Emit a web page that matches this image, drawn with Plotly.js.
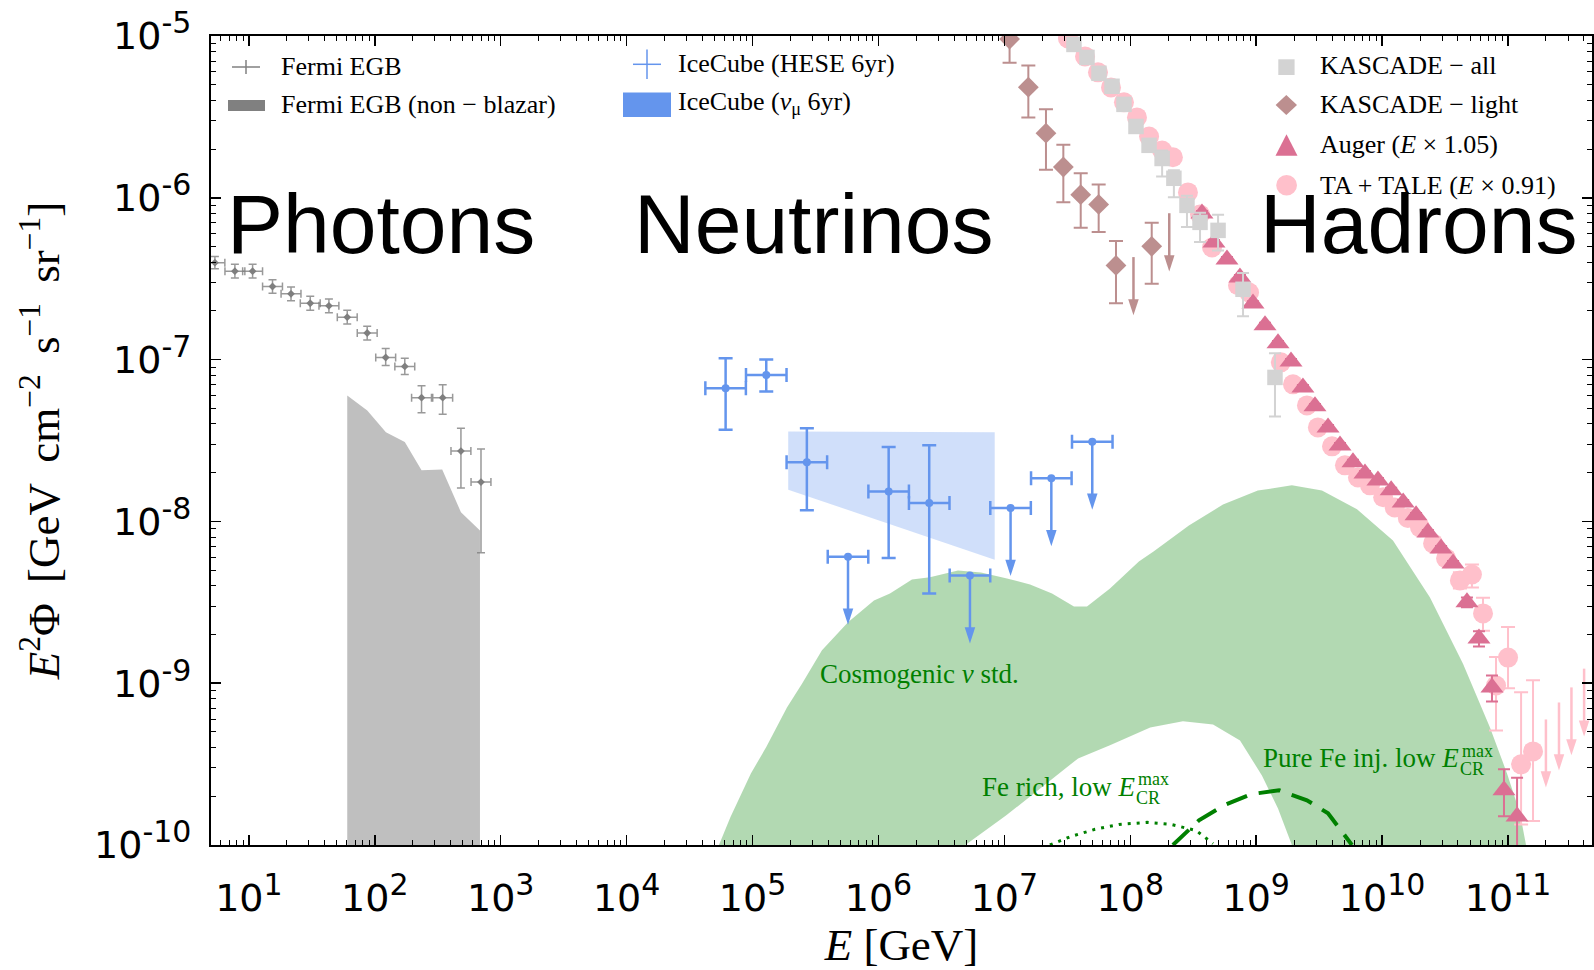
<!DOCTYPE html>
<html>
<head>
<meta charset="utf-8">
<script src="https://cdn.plot.ly/plotly-3.0.1.min.js"></script>
<style>html,body{margin:0;padding:0;background:#fff;}</style>
</head>
<body>
<div id="chart" style="width:1594px;height:970px;"></div>
<script>
// ---------------- DATA ----------------
// Fermi EGB (E in GeV, E^2 Phi in GeV cm^-2 s^-1 sr^-1)
const fermiE   = [5.37, 7.74, 10.7, 15.4, 21.6, 30.7, 43.2, 60.4, 87, 122, 173, 235, 346, 483, 697];
const fermiF   = [3.97e-7, 3.52e-7, 3.52e-7, 2.83e-7, 2.55e-7, 2.23e-7, 2.15e-7, 1.83e-7, 1.46e-7, 1.03e-7, 9.08e-8, 5.82e-8, 5.82e-8, 2.72e-8, 1.75e-8];
const fermiFhi = [4.33e-7, 3.88e-7, 3.88e-7, 3.12e-7, 2.81e-7, 2.46e-7, 2.37e-7, 2.02e-7, 1.61e-7, 1.17e-7, 1.02e-7, 6.9e-8, 7.0e-8, 3.77e-8, 2.8e-8];
const fermiFlo = [3.64e-7, 3.19e-7, 3.19e-7, 2.57e-7, 2.31e-7, 2.02e-7, 1.95e-7, 1.66e-7, 1.32e-7, 9.2e-8, 8.1e-8, 4.7e-8, 4.6e-8, 1.61e-8, 6.4e-9];
const fermiBinHalfDex = 0.079;

// Fermi EGB non-blazar
const fermiNBE = [60.4, 87.1, 122.5, 173, 235, 343, 483, 684];
const fermiNBF = [6.01e-8, 4.85e-8, 3.56e-8, 3.09e-8, 2.07e-8, 2.09e-8, 1.14e-8, 8.8e-9];

// IceCube HESE 6yr
const hesE   = [6.11e4, 1.285e5, 2.70e5, 1.205e6, 2.53e6];
const hesF   = [6.64e-8, 8.02e-8, 2.32e-8, 1.53e-8, 1.30e-8];
const hesFhi = [1.02e-7, 1.00e-7, 3.76e-8, 2.88e-8, 2.96e-8];
const hesFlo = [3.69e-8, 6.34e-8, 1.17e-8, 5.93e-9, 3.59e-9];
const hesULE = [5.73e5, 5.33e6, 1.12e7, 2.36e7, 4.99e7];
const hesULF = [6.05e-9, 4.63e-9, 1.21e-8, 1.85e-8, 3.11e-8];
const hesBinHalfDex = 0.161;

// IceCube nu_mu 6yr band
const numuE     = [1.92e5, 8.38e6];
const numuUpper = [3.60e-8, 3.55e-8];
const numuLower = [1.57e-8, 5.80e-9];

// Cosmogenic nu std. band
const cosUpE = [5.41e4, 6.68e4, 9.70e4, 1.285e5, 1.876e5, 2.47e5, 3.56e5, 5.73e5, 9.21e5, 1.234e6, 1.845e6, 2.56e6, 4.28e6, 6.52e6, 1.03e7, 1.60e7, 2.39e7, 3.57e7, 4.53e7, 6.90e7, 1.17e8, 1.54e8, 2.92e8, 5.45e8, 1.03e9, 1.92e9, 3.33e9, 6.32e9, 1.22e10, 2.40e10, 4.39e10, 7.19e10, 9.82e10, 1.245e11, 1.39e11];
const cosUpF = [1.0e-10, 1.49e-10, 2.77e-10, 4.03e-10, 7.08e-10, 9.93e-10, 1.60e-9, 2.38e-9, 3.25e-9, 3.59e-9, 4.38e-9, 4.51e-9, 4.98e-9, 4.84e-9, 4.45e-9, 4.08e-9, 3.59e-9, 2.98e-9, 2.98e-9, 3.85e-9, 5.66e-9, 6.53e-9, 9.45e-9, 1.27e-8, 1.55e-8, 1.67e-8, 1.55e-8, 1.19e-8, 7.62e-9, 3.39e-9, 1.32e-9, 5.32e-10, 2.77e-10, 1.57e-10, 1.0e-10];
const cosLoE = [4.9e6, 1.03e7, 1.92e7, 3.85e7, 6.90e7, 1.44e8, 2.62e8, 4.54e8, 7.44e8, 1.11e9, 1.49e9, 1.92e9];
const cosLoF = [1.0e-10, 1.52e-10, 2.24e-10, 3.43e-10, 4.13e-10, 5.33e-10, 5.81e-10, 5.56e-10, 4.43e-10, 2.69e-10, 1.68e-10, 1.0e-10];

// Pure Fe inj. low Emax (dashed) and Fe rich, low Emax (dotted)
const feDashE = [2.18e8, 3.51e8, 5.55e8, 9.09e8, 1.52e9, 2.53e9, 3.72e9, 4.80e9, 5.76e9];
const feDashF = [1.0e-10, 1.42e-10, 1.76e-10, 2.06e-10, 2.18e-10, 1.89e-10, 1.57e-10, 1.20e-10, 1.0e-10];
const feDotE  = [2.30e7, 3.38e7, 5.25e7, 8.13e7, 1.36e8, 2.11e8, 3.33e8, 4.54e8];
const feDotF  = [1.0e-10, 1.13e-10, 1.25e-10, 1.34e-10, 1.38e-10, 1.34e-10, 1.23e-10, 1.02e-10];

// KASCADE - light
const klE   = [1.10e7, 1.55e7, 2.14e7, 2.94e7, 4.04e7, 5.61e7, 7.70e7, 1.48e8];
const klF   = [9.58e-6, 4.83e-6, 2.51e-6, 1.55e-6, 1.045e-6, 9.10e-7, 3.82e-7, 5.01e-7];
const klFhi = [1.3e-5, 6.58e-6, 3.52e-6, 2.13e-6, 1.42e-6, 1.21e-6, 5.40e-7, 7.02e-7];
const klFlo = [6.84e-6, 3.13e-6, 1.49e-6, 9.37e-7, 6.53e-7, 6.14e-7, 2.23e-7, 2.94e-7];
const klULE = [1.06e8, 2.04e8];
const klULF = [4.30e-7, 8.03e-7];

// KASCADE - all
const kaE = [3.57e7, 4.53e7, 5.64e7, 7.16e7, 8.91e7, 1.11e8, 1.41e8, 1.79e8, 2.22e8, 2.82e8, 3.58e8, 4.98e8, 7.86e8, 1.41e9];
const kaF = [8.87e-6, 7.37e-6, 5.88e-6, 4.89e-6, 3.78e-6, 2.76e-6, 2.11e-6, 1.75e-6, 1.32e-6, 8.98e-7, 7.05e-7, 6.29e-7, 2.72e-7, 7.76e-8];
const kaUpDex = [0.03, 0.03, 0.03, 0.03, 0.03, 0.03, 0.03, 0.05, 0.05, 0.06, 0.06, 0.097, 0.10, 0.15];
const kaDnDex = [0.03, 0.03, 0.03, 0.03, 0.03, 0.03, 0.03, 0.111, 0.117, 0.134, 0.122, 0.124, 0.167, 0.241];

// Auger (E x 1.05)
const augerE = [3.71e8, 4.62e8, 5.86e8, 7.43e8, 9.43e8, 1.175e9, 1.49e9, 1.89e9, 2.35e9, 2.93e9, 3.72e9, 4.63e9, 5.87e9, 7.31e9, 9.27e9, 1.18e10, 1.47e10, 1.86e10, 2.31e10, 2.94e10, 3.66e10, 4.72e10, 5.88e10, 7.46e10, 9.29e10, 1.18e11];
const augerF = [8.01e-7, 5.30e-7, 4.16e-7, 3.22e-7, 2.22e-7, 1.63e-7, 1.26e-7, 9.74e-8, 6.73e-8, 5.14e-8, 3.81e-8, 2.95e-8, 2.32e-8, 1.98e-8, 1.79e-8, 1.56e-8, 1.31e-8, 1.09e-8, 8.55e-9, 6.81e-9, 5.50e-9, 3.16e-9, 1.89e-9, 9.42e-10, 2.18e-10, 1.50e-10];
const augerUpDex = [0.015,0.015,0.015,0.015,0.015,0.015,0.015,0.015,0.015,0.015,0.015,0.015,0.015,0.015,0.015,0.015,0.015,0.015,0.015,0.015,0.015, 0.03, 0.045, 0.074, 0.13, 0.24];
const augerDnDex = [0.015,0.015,0.015,0.015,0.015,0.015,0.015,0.015,0.015,0.015,0.015,0.015,0.015,0.015,0.015,0.015,0.015,0.015,0.015,0.015,0.015, 0.03, 0.05, 0.087, 0.16, 0.5];

// TA + TALE (E x 0.91)
const taE = [3.20e7, 4.37e7, 5.54e7, 7.03e7, 8.91e7, 1.13e8, 1.41e8, 1.79e8, 2.18e8, 2.87e8, 3.58e8, 4.46e8, 7.17e8, 8.77e8, 1.57e9, 1.96e9, 2.53e9, 3.09e9, 4.00e9, 5.07e9, 6.43e9, 8.01e9, 1.02e10, 1.26e10, 1.60e10, 2.00e10, 2.54e10, 3.22e10, 4.15e10, 5.17e10, 6.33e10, 8.03e10, 1.00e11, 1.27e11, 1.58e11];
const taF = [9.66e-6, 7.48e-6, 5.96e-6, 4.81e-6, 3.89e-6, 3.14e-6, 2.39e-6, 1.96e-6, 1.78e-6, 1.08e-6, 7.89e-7, 4.93e-7, 2.88e-7, 2.60e-7, 9.62e-8, 7.03e-8, 5.21e-8, 3.81e-8, 2.91e-8, 2.22e-8, 1.87e-8, 1.67e-8, 1.41e-8, 1.22e-8, 1.05e-8, 9.19e-9, 7.31e-9, 5.91e-9, 4.32e-9, 4.70e-9, 2.70e-9, 9.68e-10, 1.44e-9, 3.15e-10, 3.79e-10];
const taUpDex = [0.02,0.02,0.02,0.02,0.02,0.02,0.02,0.02,0.02, 0.04,0.04,0.04,0.04,0.04, 0.03,0.03,0.03,0.03,0.03,0.03,0.03,0.03,0.03,0.03,0.03,0.03,0.03,0.03, 0.05, 0.062, 0.096, 0.176, 0.189, 0.445, 0.44];
const taDnDex = [0.02,0.02,0.02,0.02,0.02,0.02,0.02,0.02,0.02, 0.04,0.04,0.04,0.04,0.04, 0.03,0.03,0.03,0.03,0.03,0.03,0.03,0.03,0.03,0.03,0.03,0.03,0.03,0.03, 0.05, 0.080, 0.107, 0.278, 0.19, 0.371, 0.43];
const taULE = [2.00e11, 2.54e11, 3.19e11, 4.02e11];
const taULF = [5.97e-10, 7.60e-10, 9.42e-10, 1.23e-9];

// Tick labels
const SUPSTYLE = 'font-size:30px';
const xTickVals = [1e1,1e2,1e3,1e4,1e5,1e6,1e7,1e8,1e9,1e10,1e11];
const xTickExp  = ['1','2','3','4','5','6','7','8','9','10','11'];
const yTickVals = [1e-10,1e-9,1e-8,1e-7,1e-6,1e-5];
const yTickExp  = ['-10','-9','-8','-7','-6','-5'];
const xTickText = xTickExp.map(e => '10<sup><span style="' + SUPSTYLE + '">' + e + '</span></sup>');
const yTickText = yTickExp.map(e => '10<sup><span style="' + SUPSTYLE + '">' + e + '</span></sup>');

// Legend labels
const legFermi = ['Fermi EGB', 'Fermi EGB (non − blazar)'];
const legIce   = ['IceCube (HESE 6yr)', 'IceCube (<i>ν</i><sub>μ</sub> 6yr)'];
const legHad   = ['KASCADE − all', 'KASCADE − light', 'Auger (<i>E</i> × 1.05)', 'TA + TALE (<i>E</i> × 0.91)'];

// ---------------- LAYOUT HELPERS ----------------
const W = 1594, H = 970;
const M = {l: 211, r: 2, t: 36, b: 125};
const PW = W - M.l - M.r, PH = H - M.t - M.b;
const X = p => (p - M.l) / PW;
const Y = p => (H - M.b - p) / PH;
const FLOOR = 1e-13;

const C = {
  fermi: '#7f7f7f', fermiErr: 'rgba(128,128,128,0.8)', fermiNB: '#bfbfbf',
  ice: '#6495ED', iceBand: 'rgba(100,149,237,0.3)',
  green: 'rgba(0,128,0,0.3)', dkgreen: '#008000',
  kall: '#D3D3D3', klight: '#BC8F8F', auger: '#DB7093', ta: '#FFC0CB'
};

const up = (v, d) => v.map((x, i) => x * (Math.pow(10, Array.isArray(d) ? d[i] : d) - 1));
const dn = (v, d) => v.map((x, i) => x * (1 - Math.pow(10, -(Array.isArray(d) ? d[i] : d))));
const diff = (a, b) => a.map((x, i) => Math.abs(x - b[i]));

function ulTraces(E, F, dropDex, color, lw, head) {
  const xs = [], ys = [], tip = [];
  E.forEach((e, i) => {
    const t = F[i] / Math.pow(10, dropDex);
    xs.push(e, e, null); ys.push(F[i], t * Math.pow(10, 0.05), null); tip.push(t);
  });
  return [
    {type: 'scatter', x: xs, y: ys, mode: 'lines', line: {color: color, width: lw}, hoverinfo: 'skip', showlegend: false},
    {type: 'scatter', x: E, y: tip, mode: 'markers', marker: {symbol: 'arrow', angle: 180, size: head, color: color, line: {width: 0}}, hoverinfo: 'skip', showlegend: false}
  ];
}

const traces = [];
// Fermi non-blazar band
traces.push({type: 'scatter', mode: 'lines',
  x: [fermiNBE[0]].concat(fermiNBE, [fermiNBE[fermiNBE.length - 1]]),
  y: [FLOOR].concat(fermiNBF, [FLOOR]),
  fill: 'toself', fillcolor: C.fermiNB, line: {width: 0}, hoverinfo: 'skip', showlegend: false});
// Cosmogenic band
traces.push({type: 'scatter', mode: 'lines',
  x: cosUpE.concat([cosUpE[cosUpE.length - 1]], cosLoE.slice().reverse(), [cosLoE[0], cosUpE[0]]),
  y: cosUpF.concat([FLOOR], cosLoF.slice().reverse(), [FLOOR, FLOOR]),
  fill: 'toself', fillcolor: C.green, line: {width: 0}, hoverinfo: 'skip', showlegend: false});
// Fe curves
traces.push({type: 'scatter', mode: 'lines', x: feDotE, y: feDotF, line: {color: C.dkgreen, width: 3, dash: '3px,6px'}, showlegend: false});
traces.push({type: 'scatter', mode: 'lines', x: feDashE, y: feDashF, line: {color: C.dkgreen, width: 4, dash: '22px,12px'}, showlegend: false});
// IceCube numu band
traces.push({type: 'scatter', mode: 'lines',
  x: [numuE[0], numuE[1], numuE[1], numuE[0]],
  y: [numuUpper[0], numuUpper[1], numuLower[1], numuLower[0]],
  fill: 'toself', fillcolor: C.iceBand, line: {width: 0}, hoverinfo: 'skip', showlegend: false});
// Fermi EGB points
traces.push({type: 'scatter', mode: 'markers', x: fermiE, y: fermiF,
  marker: {symbol: 'diamond', size: 6, color: C.fermi},
  error_x: {type: 'data', symmetric: false, array: up(fermiE, fermiBinHalfDex), arrayminus: dn(fermiE, fermiBinHalfDex), color: C.fermiErr, thickness: 1.5, width: 4},
  error_y: {type: 'data', symmetric: false, array: diff(fermiFhi, fermiF), arrayminus: diff(fermiF, fermiFlo), color: C.fermiErr, thickness: 1.5, width: 4},
  showlegend: false});
// IceCube HESE
traces.push({type: 'scatter', mode: 'markers', x: hesE, y: hesF,
  marker: {size: 8, color: C.ice},
  error_x: {type: 'data', symmetric: false, array: up(hesE, hesBinHalfDex), arrayminus: dn(hesE, hesBinHalfDex), color: C.ice, thickness: 2.5, width: 7},
  error_y: {type: 'data', symmetric: false, array: diff(hesFhi, hesF), arrayminus: diff(hesF, hesFlo), color: C.ice, thickness: 2.5, width: 7},
  showlegend: false});
traces.push(...ulTraces(hesULE, hesULF, 0.42, C.ice, 2.5, 17));
traces.push({type: 'scatter', mode: 'markers', x: hesULE, y: hesULF,
  marker: {size: 8, color: C.ice},
  error_x: {type: 'data', symmetric: false, array: up(hesULE, hesBinHalfDex), arrayminus: dn(hesULE, hesBinHalfDex), color: C.ice, thickness: 2.5, width: 7},
  showlegend: false});
// TA + TALE
traces.push({type: 'scatter', mode: 'markers', x: taE, y: taF,
  marker: {symbol: 'circle', size: 20, color: C.ta},
  error_y: {type: 'data', symmetric: false, array: up(taF, taUpDex), arrayminus: dn(taF, taDnDex), color: C.ta, thickness: 2, width: 7},
  showlegend: false});
traces.push(...ulTraces(taULE, taULF, 0.42, C.ta, 2.5, 17));
// Auger
traces.push({type: 'scatter', mode: 'markers', x: augerE, y: augerF,
  marker: {symbol: 'triangle-up', size: 20, color: C.auger},
  error_y: {type: 'data', symmetric: false, array: up(augerF, augerUpDex), arrayminus: dn(augerF, augerDnDex), color: C.auger, thickness: 2, width: 6},
  showlegend: false});
// KASCADE all
traces.push({type: 'scatter', mode: 'markers', x: kaE, y: kaF,
  marker: {symbol: 'square', size: 15.5, color: C.kall},
  error_y: {type: 'data', symmetric: false, array: up(kaF, kaUpDex), arrayminus: dn(kaF, kaDnDex), color: C.kall, thickness: 2, width: 6},
  showlegend: false});
// KASCADE light
traces.push({type: 'scatter', mode: 'markers', x: klE, y: klF,
  marker: {symbol: 'diamond', size: 16, color: C.klight},
  error_y: {type: 'data', symmetric: false, array: diff(klFhi, klF), arrayminus: diff(klF, klFlo), color: C.klight, thickness: 2, width: 7},
  showlegend: false});
traces.push(...ulTraces(klULE, klULF, 0.36, C.klight, 2.5, 17));

// minor ticks
const minorX = [], minorY = [];
for (let d = 0; d <= 11; d++) for (let k = 2; k <= 9; k++) minorX.push(k * Math.pow(10, d));
for (let d = -11; d <= -5; d++) for (let k = 2; k <= 9; k++) minorY.push(k * Math.pow(10, d));

const SERIF = 'Liberation Serif, Times New Roman, serif';
const SANS = 'DejaVu Sans, sans-serif';
const BIG = 'Liberation Sans, Arial, sans-serif';
const TS = '\u2009';

const axisCommon = {
  type: 'log', showgrid: false, zeroline: false, showline: true, linewidth: 2, linecolor: '#000',
  mirror: 'allticks', ticks: 'inside', ticklen: 10, tickwidth: 1.5, tickcolor: '#000',
  tickmode: 'array', tickfont: {family: SANS, size: 38, color: '#000'}, automargin: false
};

const xaxis = Object.assign({}, axisCommon, {
  range: [Math.log10(5), 11.667], tickvals: xTickVals, ticktext: xTickText,
  minor: {tickmode: 'array', tickvals: minorX, ticks: 'inside', ticklen: 5, tickwidth: 1, tickcolor: '#000'},
  ticklabelstandoff: 18,
  title: {text: '<i>E</i> [GeV]', font: {family: SERIF, size: 45, color: '#000'}, standoff: 12}
});
const yaxis = Object.assign({}, axisCommon, {
  range: [-10, -5], tickvals: yTickVals, ticktext: yTickText,
  minor: {tickmode: 'array', tickvals: minorY, ticks: 'inside', ticklen: 5, tickwidth: 1, tickcolor: '#000'},
  ticklabelstandoff: 10,
  title: {text: '<i>E</i><sup>2</sup>Φ' + TS + ' [GeV' + TS + ' cm<sup>−2</sup>' + TS + ' s<sup>−1</sup>' + TS + ' sr<sup>−1</sup>]',
          font: {family: SERIF, size: 45, color: '#000'}, standoff: 20}
});

const ann = [];
function txt(text, x, y, size, family, color, xanchor, yanchor) {
  ann.push({text: text, x: X(x), y: Y(y), xref: 'paper', yref: 'paper', showarrow: false,
    xanchor: xanchor || 'left', yanchor: yanchor || 'middle', font: {family: family, size: size, color: color || '#000'}, borderpad: 0});
}
// big region labels
txt('Photons', 225.5, 224.5, 84, BIG);
txt('Neutrinos', 633, 224.5, 84, BIG);
txt('Hadrons', 1259, 224.5, 84, BIG);
// legends
txt(legFermi[0], 280, 66.2, 26, SERIF);
txt(legFermi[1], 280, 104.2, 26, SERIF);
txt(legIce[0], 677, 63.3, 26, SERIF);
txt(legIce[1], 677, 103.3, 26, SERIF);
txt(legHad[0], 1319, 65.3, 26, SERIF);
txt(legHad[1], 1319, 104.3, 26, SERIF);
txt(legHad[2], 1319, 144.7, 26, SERIF);
txt(legHad[3], 1319, 185.3, 26, SERIF);
// model labels
txt('Cosmogenic <i>ν</i> std.', 819, 673.5, 27, SERIF, C.dkgreen);
txt('Fe rich, low <i>E</i>', 1136, 786.5, 27, SERIF, C.dkgreen, 'right');
txt('max', 1137, 779, 18, SERIF, C.dkgreen);
txt('CR', 1135, 798, 18, SERIF, C.dkgreen);
txt('Pure Fe inj. low <i>E</i>', 1460, 758, 27, SERIF, C.dkgreen, 'right');
txt('max', 1461, 750.5, 18, SERIF, C.dkgreen);
txt('CR', 1459, 769, 18, SERIF, C.dkgreen);

const P = (pts) => 'M' + pts.map(p => X(p[0]) + ',' + Y(p[1])).join('L') + 'Z';
const shapes = [
  // Fermi EGB cross
  {type: 'line', xref: 'paper', yref: 'paper', x0: X(232), x1: X(260), y0: Y(67), y1: Y(67), line: {color: '#808080', width: 1.5}},
  {type: 'line', xref: 'paper', yref: 'paper', x0: X(246), x1: X(246), y0: Y(60), y1: Y(74), line: {color: '#808080', width: 1.5}},
  {type: 'rect', xref: 'paper', yref: 'paper', x0: X(228), x1: X(265), y0: Y(111), y1: Y(100), fillcolor: '#808080', line: {width: 0}},
  // IceCube cross and patch
  {type: 'line', xref: 'paper', yref: 'paper', x0: X(633), x1: X(661), y0: Y(64.3), y1: Y(64.3), line: {color: C.ice, width: 1.5}},
  {type: 'line', xref: 'paper', yref: 'paper', x0: X(647), x1: X(647), y0: Y(49.5), y1: Y(79), line: {color: C.ice, width: 1.5}},
  {type: 'rect', xref: 'paper', yref: 'paper', x0: X(623), x1: X(671), y0: Y(117), y1: Y(92.5), fillcolor: C.ice, line: {width: 0}},
  // hadron legend symbols
  {type: 'rect', xref: 'paper', yref: 'paper', x0: X(1278.3), x1: X(1294.6), y0: Y(75), y1: Y(59.3), fillcolor: C.kall, line: {width: 0}},
  {type: 'path', xref: 'paper', yref: 'paper', path: P([[1275.6, 105], [1286.3, 95], [1297, 105], [1286.3, 115]]), fillcolor: C.klight, line: {width: 0}},
  {type: 'path', xref: 'paper', yref: 'paper', path: P([[1286.5, 134.3], [1297.5, 155.7], [1275.5, 155.7]]), fillcolor: C.auger, line: {width: 0}},
  {type: 'circle', xref: 'paper', yref: 'paper', x0: X(1276.2), x1: X(1297), y0: Y(195.5), y1: Y(175), fillcolor: C.ta, line: {width: 0}}
];

const layout = {
  width: W, height: H, margin: M, paper_bgcolor: '#fff', plot_bgcolor: '#fff',
  showlegend: false, xaxis: xaxis, yaxis: yaxis, annotations: ann, shapes: shapes,
  font: {family: SANS, color: '#000'}
};

Plotly.newPlot('chart', traces, layout, {displayModeBar: false, staticPlot: true});
</script>
</body>
</html>
